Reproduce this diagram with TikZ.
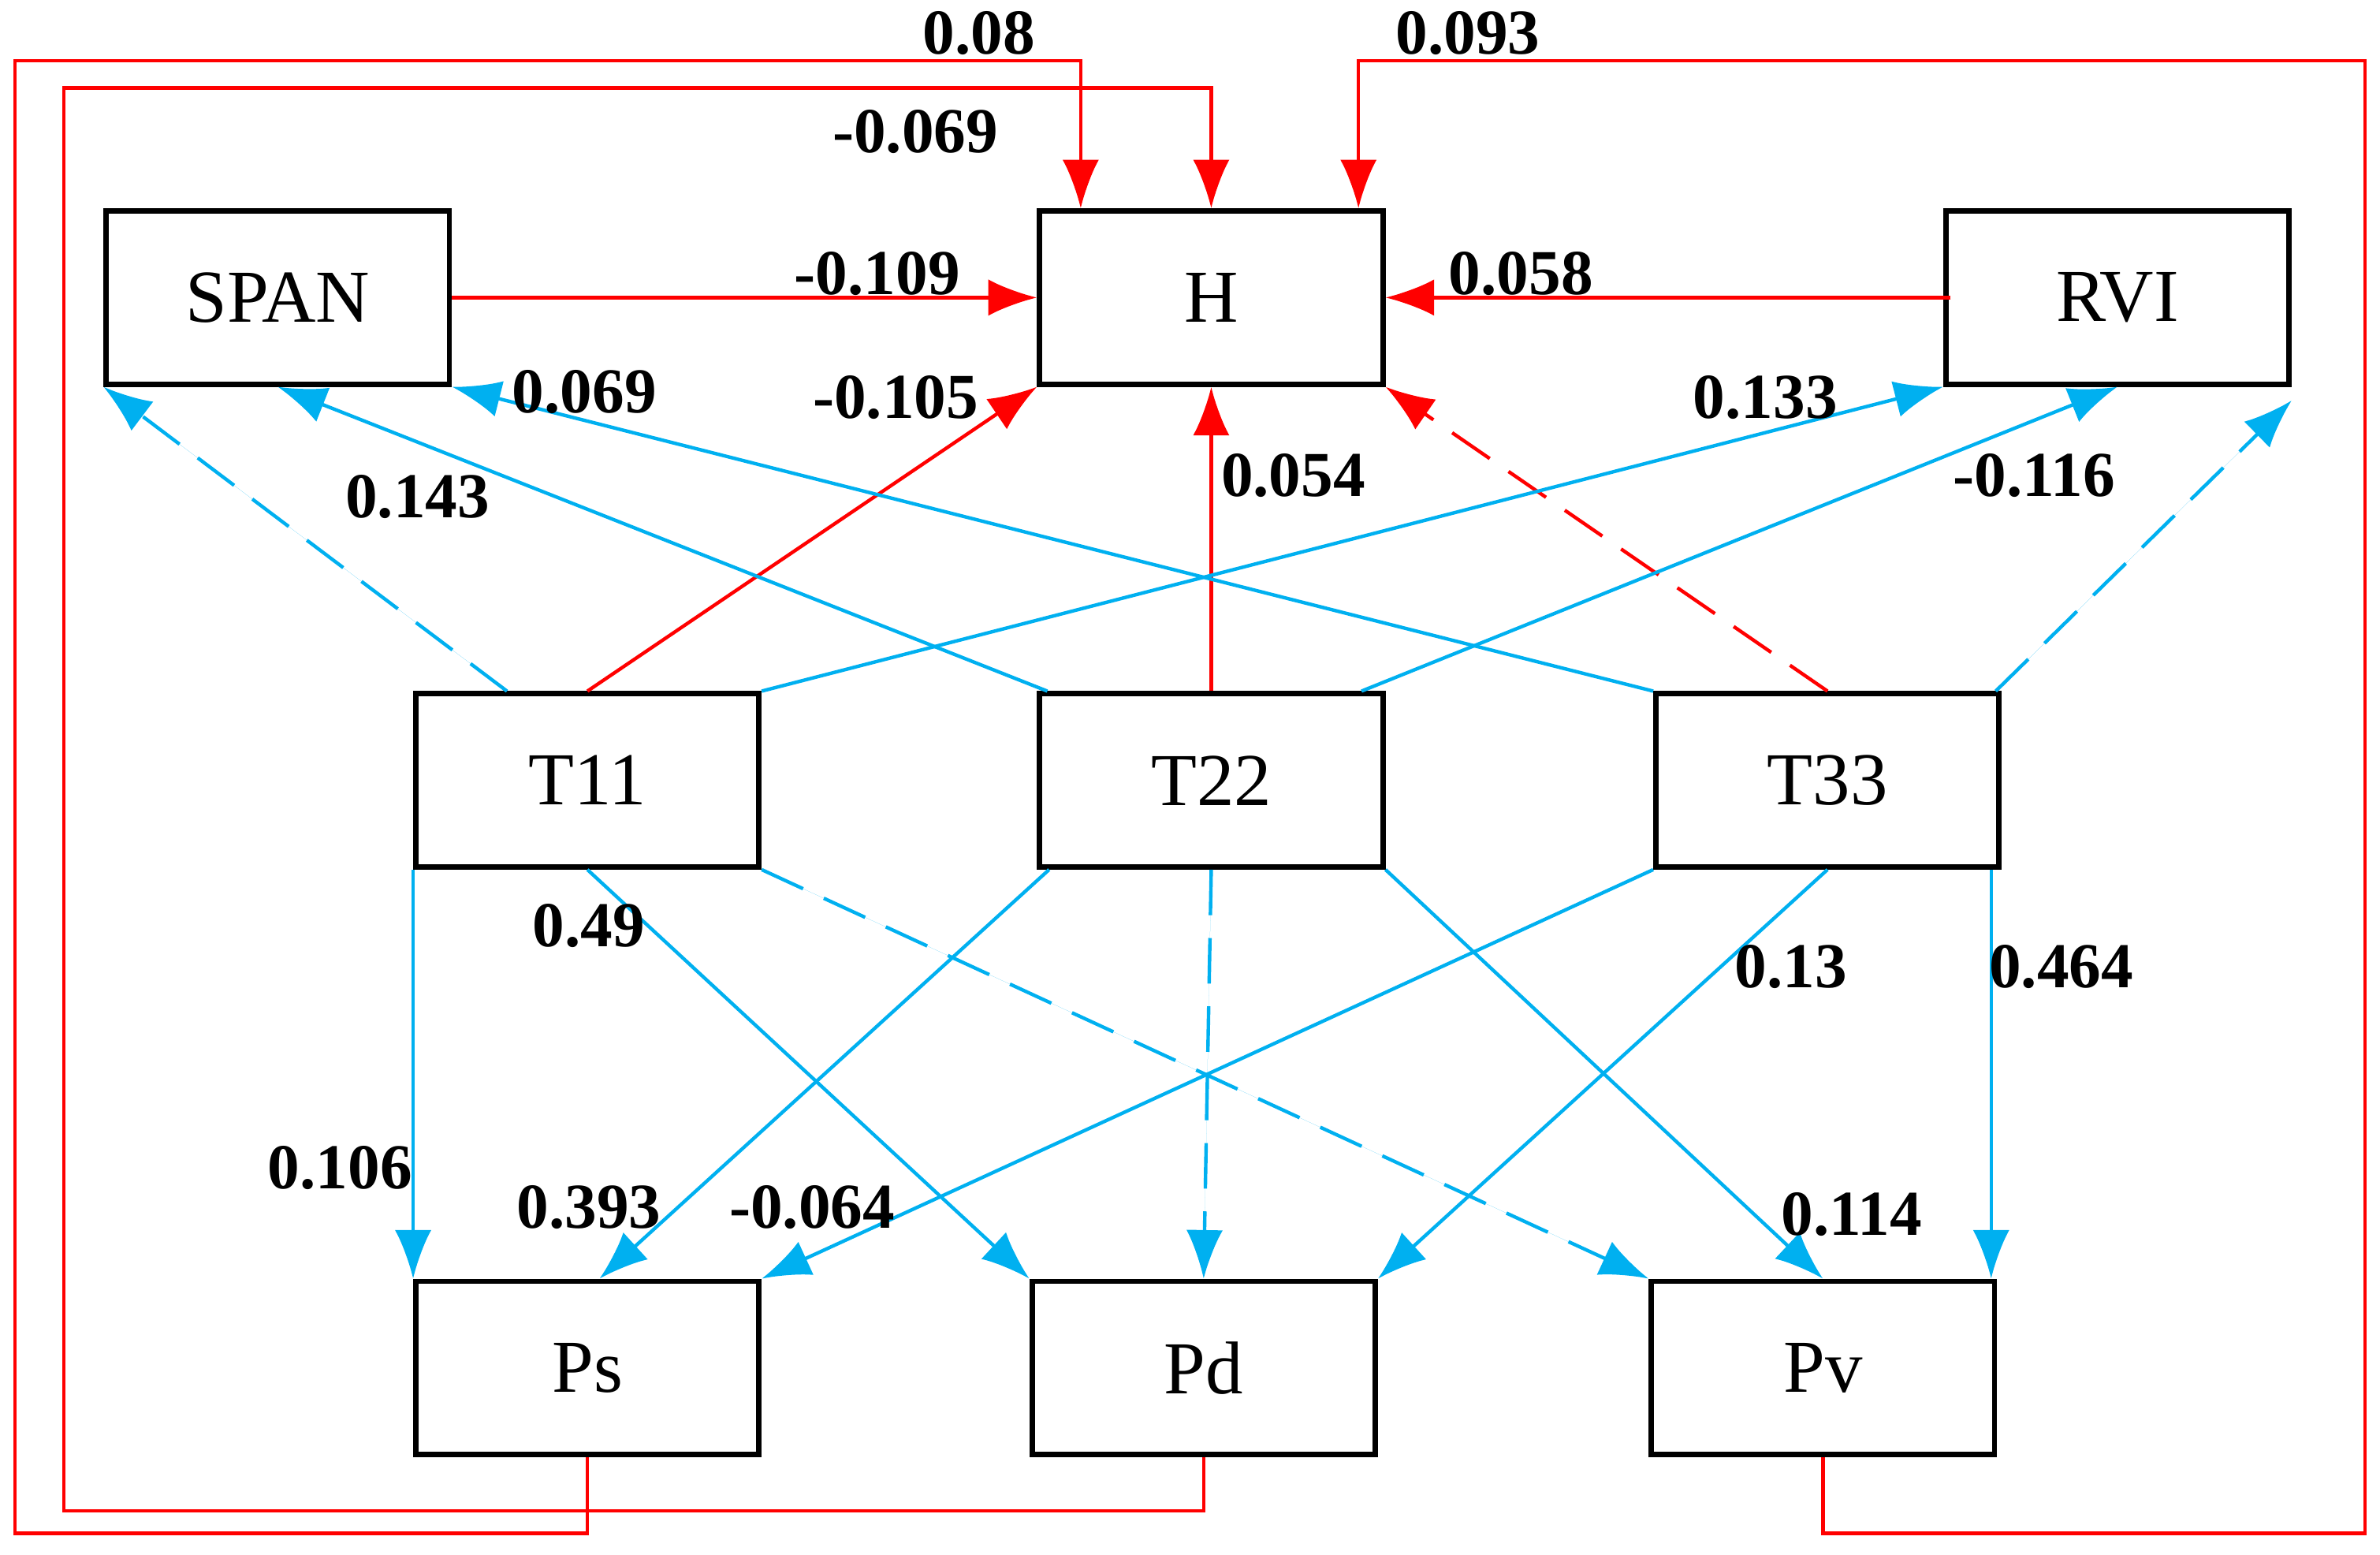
\documentclass[tikz,border=0pt]{standalone}
\usepackage{fontspec}
\setmainfont{Liberation Serif}
\usetikzlibrary{arrows.meta,calc}
\begin{document}
\begin{tikzpicture}[x=0.01cm,y=-0.01cm,
 box/.style={draw,line width=1pt,minimum width=2.26cm,minimum height=1.14cm,inner sep=0,font=\fontsize{14}{14}\selectfont},
 lab/.style={font=\bfseries\fontsize{12}{12}\selectfont,inner sep=0},
 red/.style={draw={rgb,255:red,255;green,0;blue,0},line width=0.65pt,-{Latex[length=0.32cm,width=0.24cm]}},
 blu/.style={draw={rgb,255:red,0;green,176;blue,240},fill={rgb,255:red,0;green,176;blue,240},line width=0.65pt,-{Latex[length=0.32cm,width=0.24cm]}},
 rf/.style={red,-{Latex[length=0.32cm,width=0.24cm,fill={rgb,255:red,255;green,0;blue,0}]}},
 dsh/.style={dash pattern=on 0.3cm off 0.15cm}]
\useasboundingbox (0,0) rectangle (1568,1024);
\node[box] (SPAN) at (183,196) {SPAN};
\node[box] (H) at (798,196) {H};
\node[box] (RVI) at (1395,196) {RVI};
\node[box] (T11) at (387,514) {T11};
\node[box] (T22) at (798,514) {T22};
\node[box] (T33) at (1204,514) {T33};
\node[box] (Ps) at (387,901) {Ps};
\node[box] (Pd) at (793,901) {Pd};
\node[box] (Pv) at (1201,901) {Pv};
% red feedback
\draw[rf] (Ps.south) |- (10,1010) |- (712,40) -- ([xshift=-86*0.01cm]H.north);
\draw[rf] (Pd.south) |- (42,995) |- (798,58) -- (H.north);
\draw[rf] (Pv.south) |- (1558,1010) |- (895,40) -- ([xshift=97*0.01cm]H.north);
\draw[rf] (SPAN.east) -- (H.west);
\draw[rf] ([xshift=5*0.01cm]RVI.west) -- (H.east);
\draw[rf] (T11.north) -- (H.south west);
\draw[rf] (T22.north) -- (H.south);
\draw[rf,dsh] (T33.north) -- (H.south east);
% blue
\draw[blu,dsh] ([xshift=-53*0.01cm]T11.north) -- (SPAN.south west);
\draw[blu] ([xshift=-108*0.01cm]T22.north) -- (SPAN.south);
\draw[blu] (T33.north west) -- (SPAN.south east);
\draw[blu] (T11.north east) -- (RVI.south west);
\draw[blu] ([xshift=99*0.01cm]T22.north) -- (RVI.south);
\draw[blu,dsh] ([xshift=-4*0.01cm]T33.north east) -- ([yshift=-9*0.01cm]RVI.south east);
\draw[blu] (T11.south west) -- (Ps.north west);
\draw[blu] (T11.south) -- (Pd.north west);
\draw[blu,dsh] (T11.south east) -- (Pv.north west);
\draw[blu] ([xshift=8*0.01cm]T22.south west) -- ([xshift=8*0.01cm]Ps.north);
\draw[blu,dsh] (T22.south) -- (Pd.north);
\draw[blu] (T22.south east) -- (Pv.north);
\draw[blu] (T33.south west) -- (Ps.north east);
\draw[blu] (T33.south) -- (Pd.north east);
\draw[blu] ([xshift=-7*0.01cm]T33.south east) -- ([xshift=-4*0.01cm]Pv.north east);
% labels
\node[lab] (l1) at (645,22) {0.08};
\node[lab] (l2) at (603,87) {-0.069};
\node[lab] (l3) at (967,22) {0.093};
\node[lab] (l4) at (578,180) {-0.109};
\node[lab] (l5) at (1002,180) {0.058};
\node[lab] (l6) at (590,262) {-0.105};
\node[lab] (l7) at (852,313) {0.054};
\node[lab] (l8) at (275,327) {0.143};
\node[lab] (l9) at (385,258) {0.069};
\node[lab] (l10) at (1163,262) {0.133};
\node[lab] (l11) at (1340,313) {-0.116};
\node[lab] (l12) at (224,769) {0.106};
\node[lab] (l13) at (388,610) {0.49};
\node[lab] (l14) at (388,795) {0.393};
\node[lab] (l15) at (1220,800) {0.114};
\node[lab] (l16) at (535,795) {-0.064};
\node[lab] (l17) at (1180,637) {0.13};
\node[lab] (l18) at (1358,637) {0.464};
\end{tikzpicture}
\end{document}
